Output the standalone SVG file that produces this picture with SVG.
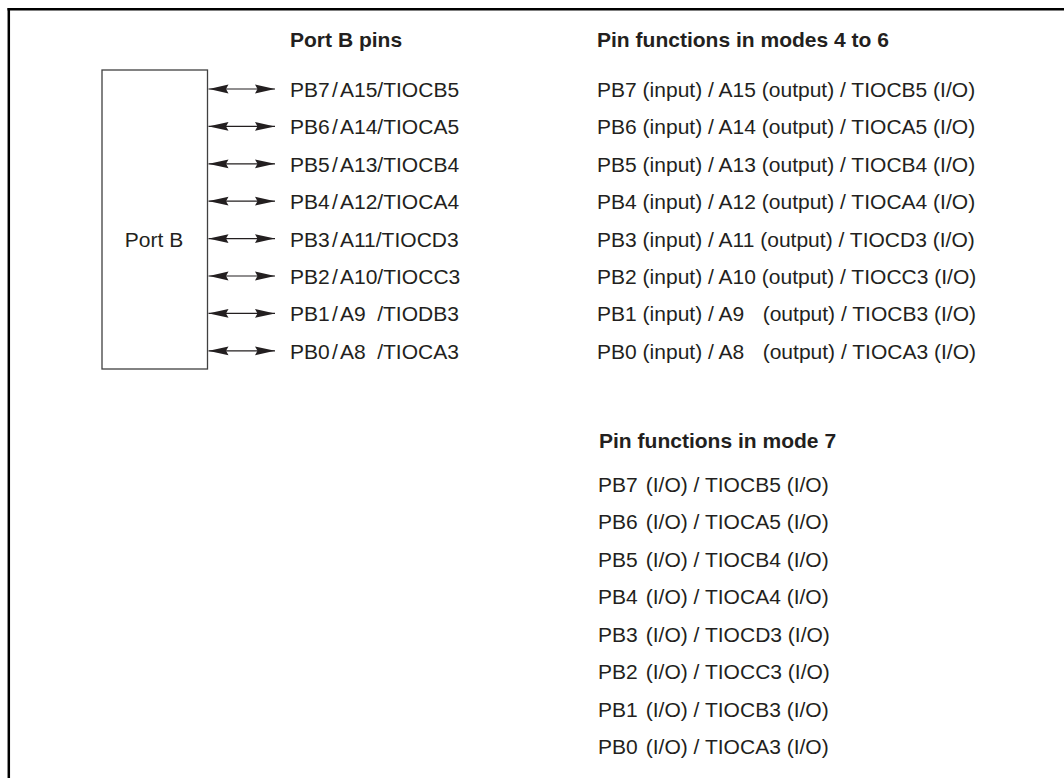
<svg xmlns="http://www.w3.org/2000/svg" width="1064" height="778" viewBox="0 0 1064 778">
<style>
.t{font-family:"Liberation Sans",Arial,sans-serif;font-size:19.3px;fill:#231f20}
.h{font-family:"Liberation Sans",Arial,sans-serif;font-size:19.3px;font-weight:bold;fill:#231f20}
.frame{stroke:#000;stroke-width:2.5;fill:none}
.box{fill:#fff;stroke:#404040;stroke-width:1.3}
.conn{stroke:#231f20;stroke-width:1.2;fill:none;marker-start:url(#ah);marker-end:url(#ah)}
</style>
<defs>
<marker id="ah" viewBox="0 0 20 10" refX="20" refY="5" markerWidth="20" markerHeight="10" markerUnits="userSpaceOnUse" orient="auto-start-reverse">
<path d="M0,0.6 L20,5 L0,9.4 L2.5,5 z" fill="#231f20"/>
</marker>
</defs>
<rect width="1064" height="778" fill="#fff"/>
<g id="frame">
<line class="frame" x1="7.5" y1="9.2" x2="1064" y2="9.2"/>
<line class="frame" x1="8.8" y1="8" x2="8.8" y2="778"/>
</g>
<g id="portb">
<rect class="box" x="102" y="70" width="105.5" height="299"/>
<text class="t" text-anchor="middle" transform="translate(154 247) scale(1.09 1)">Port B</text>
</g>
<g id="connectors">
<line class="conn" x1="208.5" y1="89" x2="275" y2="89"/>
<line class="conn" x1="208.5" y1="126.4" x2="275" y2="126.4"/>
<line class="conn" x1="208.5" y1="163.8" x2="275" y2="163.8"/>
<line class="conn" x1="208.5" y1="201.2" x2="275" y2="201.2"/>
<line class="conn" x1="208.5" y1="238.6" x2="275" y2="238.6"/>
<line class="conn" x1="208.5" y1="276" x2="275" y2="276"/>
<line class="conn" x1="208.5" y1="313.4" x2="275" y2="313.4"/>
<line class="conn" x1="208.5" y1="350.8" x2="275" y2="350.8"/>
</g>
<g id="pins">
<text class="h" transform="translate(290 46.5) scale(1.09 1)">Port B pins</text>
<text class="t" transform="translate(290 97) scale(1.09 1)">PB7<tspan dx="2">/</tspan><tspan dx="2">A15/TIOCB5</tspan></text>
<text class="t" transform="translate(290 134.4) scale(1.09 1)">PB6<tspan dx="2">/</tspan><tspan dx="2">A14/TIOCA5</tspan></text>
<text class="t" transform="translate(290 171.8) scale(1.09 1)">PB5<tspan dx="2">/</tspan><tspan dx="2">A13/TIOCB4</tspan></text>
<text class="t" transform="translate(290 209.2) scale(1.09 1)">PB4<tspan dx="2">/</tspan><tspan dx="2">A12/TIOCA4</tspan></text>
<text class="t" transform="translate(290 246.6) scale(1.09 1)">PB3<tspan dx="2">/</tspan><tspan dx="2">A11/TIOCD3</tspan></text>
<text class="t" transform="translate(290 284) scale(1.09 1)">PB2<tspan dx="2">/</tspan><tspan dx="2">A10/TIOCC3</tspan></text>
<text class="t" transform="translate(290 321.4) scale(1.09 1)">PB1<tspan dx="2">/</tspan><tspan dx="2">A9</tspan><tspan x="80">/TIODB3</tspan></text>
<text class="t" transform="translate(290 358.8) scale(1.09 1)">PB0<tspan dx="2">/</tspan><tspan dx="2">A8</tspan><tspan x="80">/TIOCA3</tspan></text>
</g>
<g id="modes4to6">
<text class="h" transform="translate(597 46.5) scale(1.09 1)">Pin functions in modes 4 to 6</text>
<text class="t" transform="translate(597 97) scale(1.09 1)">PB7 (input) / A15 (output) / TIOCB5 (I/O)</text>
<text class="t" transform="translate(597 134.4) scale(1.09 1)">PB6 (input) / A14 (output) / TIOCA5 (I/O)</text>
<text class="t" transform="translate(597 171.8) scale(1.09 1)">PB5 (input) / A13 (output) / TIOCB4 (I/O)</text>
<text class="t" transform="translate(597 209.2) scale(1.09 1)">PB4 (input) / A12 (output) / TIOCA4 (I/O)</text>
<text class="t" transform="translate(597 246.6) scale(1.09 1)">PB3 (input) / A11 (output) / TIOCD3 (I/O)</text>
<text class="t" transform="translate(597 284) scale(1.09 1)">PB2 (input) / A10 (output) / TIOCC3 (I/O)</text>
<text class="t" transform="translate(597 321.4) scale(1.09 1)">PB1 (input) / A9 <tspan x="152">(output) / TIOCB3 (I/O)</tspan></text>
<text class="t" transform="translate(597 358.8) scale(1.09 1)">PB0 (input) / A8 <tspan x="152">(output) / TIOCA3 (I/O)</tspan></text>
</g>
<g id="mode7">
<text class="h" transform="translate(599 448) scale(1.09 1)">Pin functions in mode 7</text>
<text class="t" transform="translate(598 491.5) scale(1.09 1)">PB7 <tspan dx="2">(I/O) / TIOCB5 (I/O)</tspan></text>
<text class="t" transform="translate(598 529) scale(1.09 1)">PB6 <tspan dx="2">(I/O) / TIOCA5 (I/O)</tspan></text>
<text class="t" transform="translate(598 566.5) scale(1.09 1)">PB5 <tspan dx="2">(I/O) / TIOCB4 (I/O)</tspan></text>
<text class="t" transform="translate(598 604) scale(1.09 1)">PB4 <tspan dx="2">(I/O) / TIOCA4 (I/O)</tspan></text>
<text class="t" transform="translate(598 641.5) scale(1.09 1)">PB3 <tspan dx="2">(I/O) / TIOCD3 (I/O)</tspan></text>
<text class="t" transform="translate(598 679) scale(1.09 1)">PB2 <tspan dx="2">(I/O) / TIOCC3 (I/O)</tspan></text>
<text class="t" transform="translate(598 716.5) scale(1.09 1)">PB1 <tspan dx="2">(I/O) / TIOCB3 (I/O)</tspan></text>
<text class="t" transform="translate(598 754) scale(1.09 1)">PB0 <tspan dx="2">(I/O) / TIOCA3 (I/O)</tspan></text>
</g>
</svg>
